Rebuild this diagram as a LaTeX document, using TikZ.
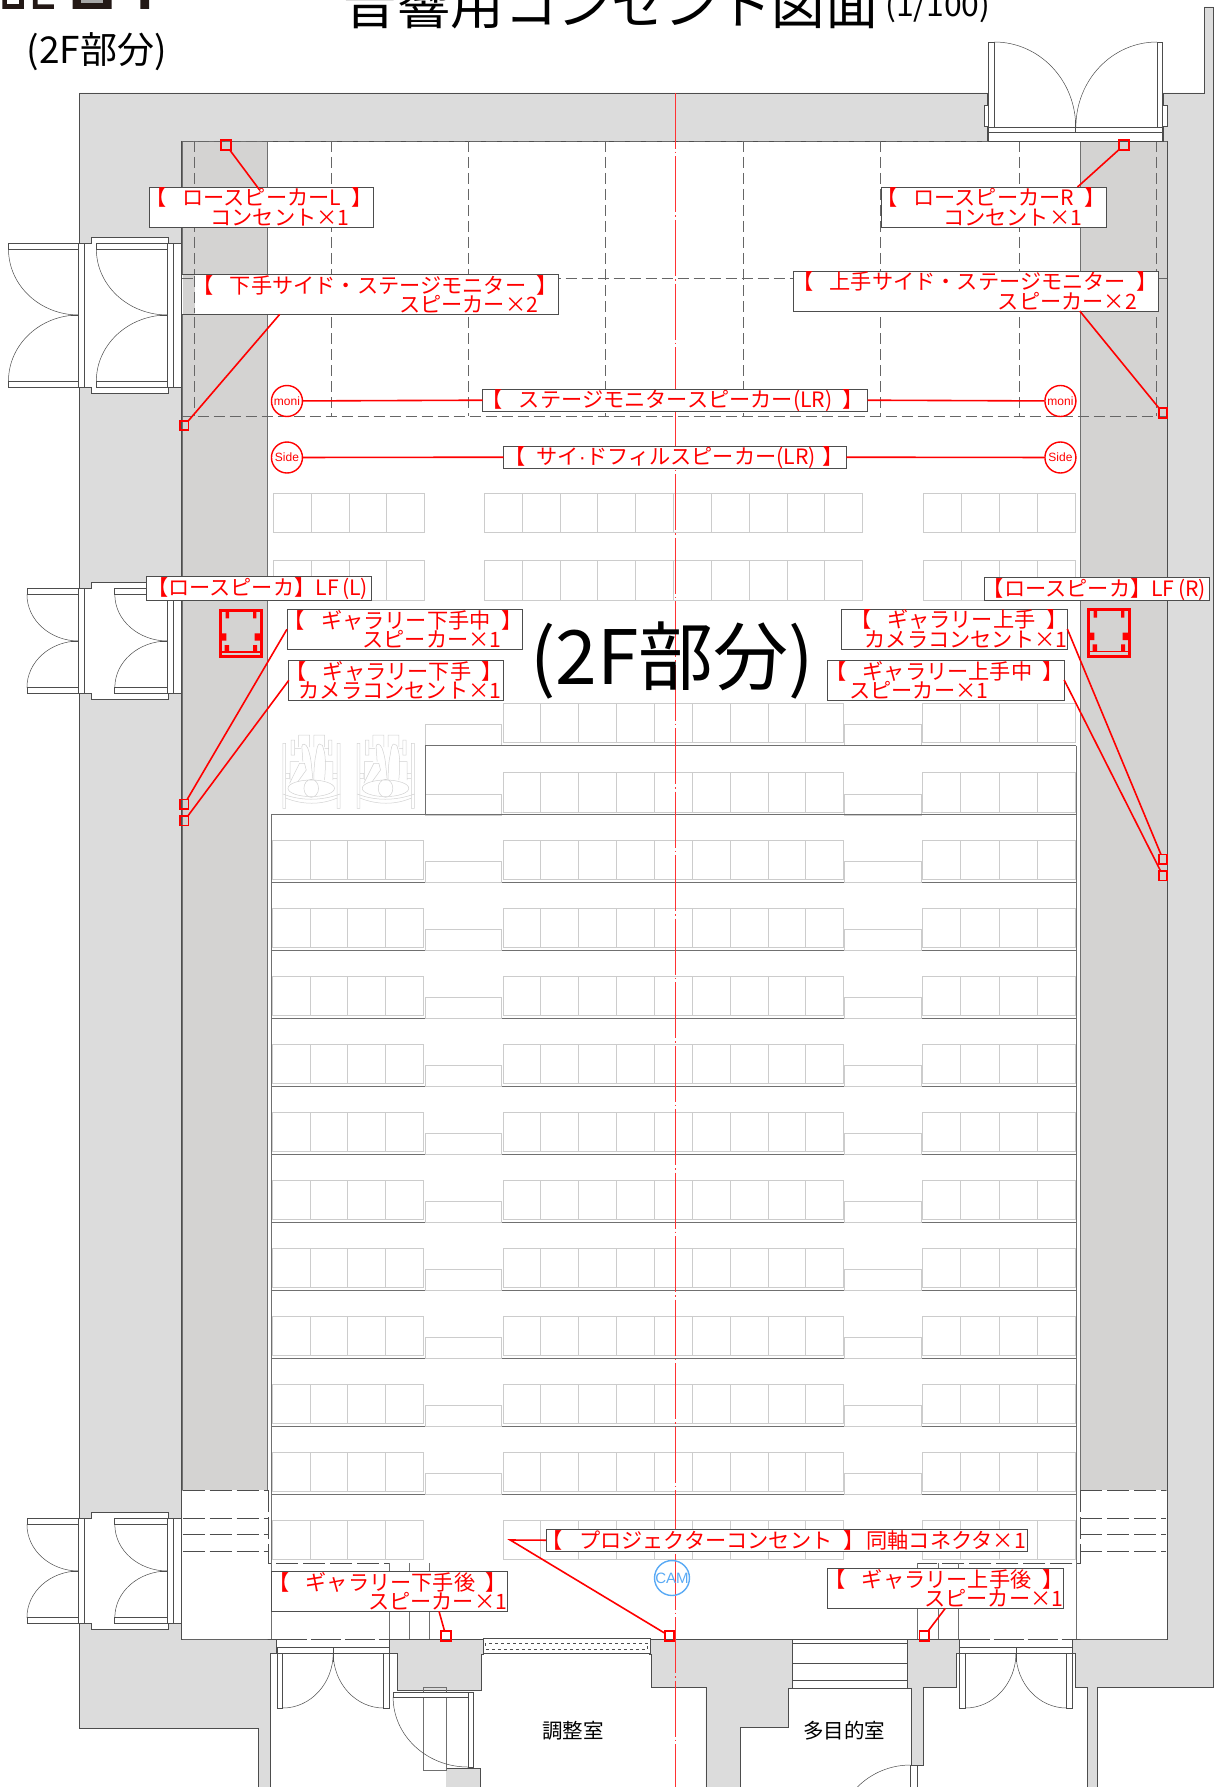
\documentclass[tikz,border=0pt]{standalone}
\usepackage{fontspec}
\setmainfont{Noto Sans CJK JP}
\newfontfamily\latinfont{Liberation Sans}
\definecolor{wallgray}{HTML}{DCDCDC}
\definecolor{winggray}{HTML}{D4D3D2}
\definecolor{planline}{HTML}{4D4D4D}
\definecolor{gridline}{HTML}{666666}
\definecolor{seatline}{HTML}{CCCCCC}
\definecolor{chairline}{HTML}{D2D2D2}
\definecolor{rowline}{HTML}{707070}
\definecolor{logoblack}{HTML}{231815}
\definecolor{camblue}{HTML}{5AAAF5}
\newcommand\gp{\hspace{.5em}}
\newcommand\rt[1]{\hspace*{#1pt}}
\newcommand\openbr{\leavevmode\kern-20pt 【\hspace{.25em}}
\tikzset{
  wall/.style={draw=planline,line width=0.8},
  thin door/.style={draw=planline,line width=0.5},
  dash grid/.style={draw=gridline,line width=0.7,dash pattern=on 11pt off 5pt},
  white dash/.style={draw=planline,line width=0.7,dash pattern=on 22pt off 5pt},
  seat/.style={draw=seatline,line width=0.8},
  labelbox/.style={draw=planline,line width=0.8,fill=white,text=red,align=right,inner sep=0,outer sep=0,
    minimum height=40,font=\fontsize{21.2}{19.4}\selectfont},
  oneline/.style={labelbox,minimum height=#1},
  outlet/.style={draw=red,line width=1.8,minimum size=9.5,inner sep=0,outer sep=0},
  link/.style={draw=red,line width=1.6},
  spk/.style={circle,draw=red,line width=1.4,fill=white,minimum size=31,inner sep=0,text=red,
    font=\latinfont\fontsize{12}{12}\selectfont},
  speakerbox/.pic={
    \draw[red,line width=3] (0,0) rectangle (41,46.7);
    \draw[red,line width=1.5] (0,42) -- (41,42);
    \fill[red] (5.3,1) rectangle (8.7,8.3) (32.7,1) rectangle (36,8.3)
      (0,23.3) rectangle (6,30.7) (34.3,23.3) rectangle (41,30.7)
      (4.3,35) rectangle (8.7,41.7) (32.7,35) rectangle (36.7,41.7);
  },
  wheelchair/.pic={
    \draw[chairline,line width=0.5]
      (0,8.3) rectangle (2.7,73.3) (54.4,8.3) rectangle (57.4,73.3)
      (15.7,0) -- (15.7,12) (15.7,0) -- (26.7,0) -- (26.7,12) (31,12) -- (31,0) -- (41.7,0) -- (41.7,12)
      (8.3,5) rectangle (11.7,20) (45.7,5) rectangle (49,20)
      (11.7,13.5) -- (18,13.5) (41.7,13.5) -- (45.7,13.5)
      (7.3,45) -- (7.3,26.7) -- (16,26.7) (42,26.7) -- (50,26.7) -- (50,45)
      (2.7,38.3) rectangle (6.7,43.3) (50,38.3) rectangle (54.4,43.3)
      (28.4,53.3) ellipse [x radius=23.3,y radius=8.3]
      (28.4,53.3) ellipse [x radius=7.3,y radius=9];
    \draw[chairline,line width=0.5] (0,59) .. controls (18,66) and (38,66) .. (57.4,59);
    \draw[chairline,line width=0.5] (2.7,63) .. controls (20,70) and (38,70) .. (54.4,63);
    \draw[chairline,line width=0.5] (31,45) .. controls (31,32) and (32,24) .. (33.4,18.3)
      .. controls (34,13) and (35,9) .. (36.7,9) .. controls (39,9) and (41,11) .. (40.7,14)
      .. controls (43,20) and (43,32) .. (41.7,45);
    \draw[chairline,line width=0.5] (19,11.7) .. controls (19,8) and (23,8) .. (25,13.3)
      .. controls (27,19) and (28,24) .. (28.4,28.3) -- (30,44);
    \draw[chairline,line width=0.5] (19,11.7) -- (20,26.7);
    \draw[chairline,line width=0.5] (6.7,48.3) -- (16.7,28.3) -- (21.7,28.3) -- (23.4,35) -- (15,46.7);
  }
}
% pair of leaves on the left side, with the frame round them
\newcommand\leafpair[4]{
  \fill[white] (80,#3-#4) rectangle (182,#3+#4);
  \fill[white] (92,#3-#4-6) rectangle (168.5,#3+#4+6);
  \draw[wall] (84,#3-#4) -- (92,#3-#4) -- (92,#3-#4-6) -- (168.5,#3-#4-6) -- (168.5,#3-#4);
  \draw[wall] (84,#3+#4) -- (92,#3+#4) -- (92,#3+#4+6) -- (168.5,#3+#4+6) -- (168.5,#3+#4);
  \foreach \xa/\xb in {#1/79,#2/168} {
    \draw[wall,fill=white] (\xa,#3-#4) rectangle (\xb,#3-#4+6);
    \draw[wall,fill=white] (\xa,#3+#4) rectangle (\xb,#3+#4-6);
    \draw[thin door] (\xa,#3-#4+6) arc [start angle=180,end angle=90,x radius={\xb-\xa},y radius={#4-6}];
    \draw[thin door] (\xa,#3+#4-6) arc [start angle=180,end angle=270,x radius={\xb-\xa},y radius={#4-6}];
    \draw[wall] (\xb-8,#3) -- (\xb+5,#3);
    \draw[wall,fill=white] (\xb,#3-#4) rectangle (\xb+5.5,#3+#4);
  }
  \draw[wall] (173.5,#3-#4) rectangle (182,#3+#4);
}
\begin{document}
\begin{tikzpicture}[x=0.9985pt,y=-1pt]
\useasboundingbox (0,0) rectangle (1217.83,1787);
\fill[white] (0,0) rectangle (1217.83,1787);
% walls
\draw[wall,fill=wallgray] (80,93) -- (989,93) -- (989,141) -- (1165,141) -- (1165,93) -- (1206,93)
  -- (1206,7) -- (1215.5,7) -- (1215.5,1687) -- (1099,1687) -- (1099,1787) -- (1089,1787) -- (1089,1687)
  -- (1077,1687) -- (1077,1653) -- (1074,1653) -- (1074,1639) -- (961,1639) -- (961,1653) -- (958,1653)
  -- (958,1687) -- (925,1687) -- (925,1765) -- (912.5,1765) -- (912.5,1688) -- (908.6,1688) -- (908.6,1639)
  -- (794,1639) -- (794,1688) -- (789.5,1688) -- (789.5,1727) -- (741,1727) -- (741,1787) -- (707,1787)
  -- (707,1687) -- (652.6,1687) -- (652.6,1654) -- (650.7,1654) -- (650.7,1639) -- (484,1639) -- (484,1654)
  -- (482.4,1654) -- (482.4,1690) -- (397.6,1690) -- (397.6,1653) -- (390,1653) -- (390,1639) -- (277,1639)
  -- (277,1653) -- (270.4,1653) -- (270.4,1787) -- (258.7,1787) -- (258.7,1728) -- (80,1728) -- cycle;
\draw[wall,fill=wallgray] (446.6,1768) -- (481.6,1768) -- (481.6,1787) -- (446.6,1787);
\draw[wall,fill=white] (182,141) rectangle (1169,1639);
\draw[draw=rowline,fill=winggray] (182,141) rectangle (268,1490);
\draw[draw=rowline,fill=winggray] (1081.5,141) rectangle (1169,1490);
\draw[wall] (182,141) -- (182,1490) (1169,141) -- (1169,1490);
% stage grid
\foreach \gx in {194.5,332,469,606.5,744.5,882,1020.6,1158}
  \draw[dash grid] (\gx,141) -- (\gx,416);
\foreach \gy in {141,278,416}
  \draw[dash grid] (182,\gy) -- (1169,\gy);
% seats
\foreach \sy in {493,560.7} {
  \foreach \i in {0,...,3} \draw[seat] (274+37.75*\i,\sy) rectangle ++(37.75,39.3);
  \foreach \i in {0,...,9} \draw[seat] (485+37.9*\i,\sy) rectangle ++(37.9,39.3);
  \foreach \i in {0,...,3} \draw[seat] (925+38*\i,\sy) rectangle ++(38,39.3);
}
\foreach \sy in {703,772.7} {
  \foreach \i in {0,...,8} \draw[seat] (503.8+37.9*\i,\sy) rectangle ++(37.9,39.3);
  \foreach \i in {0,...,3} \draw[seat] (924+38.2*\i,\sy) rectangle ++(38.2,39.3);
  \draw[seat] (426,\sy+21.7) rectangle ++(76,21);
  \draw[seat] (846,\sy+21.7) rectangle ++(76.5,21);
}
\draw[rowline,line width=1] (426,745.7) -- (1078,745.7) (426,745.7) -- (426,814);
\pic at (283.3,735) {wheelchair};
\pic at (357.7,735) {wheelchair};
\foreach \k in {0,...,10} {
  \draw[rowline,line width=1] (271.5,814.3+68*\k) -- (1078,814.3+68*\k);
  \foreach \i in {0,...,3} \draw[seat] (272.4+38*\i,840+68*\k) rectangle ++(38,39.3);
  \foreach \i in {0,...,8} \draw[seat] (503.8+37.9*\i,840+68*\k) rectangle ++(37.9,39.3);
  \foreach \i in {0,...,3} \draw[seat] (924+38.2*\i,840+68*\k) rectangle ++(38.2,39.3);
}
\foreach \k in {0,...,9} {
  \draw[seat] (426,861.7+68*\k) rectangle ++(76,20.3);
  \draw[seat] (846,861.7+68*\k) rectangle ++(76.5,20.3);
}
\draw[rowline,line width=1] (271.5,814) -- (271.5,1639) (1078,745.7) -- (1078,1639);
% rear of the hall
\fill[white] (183,1490) rectangle (268,1639) (1082,1490) rectangle (1168,1639);
\foreach \gy in {1490,1518,1534.3,1551} {
  \draw[white dash] (183,\gy) -- (268,\gy);
  \draw[white dash] (1082,\gy) -- (1168,\gy);
}
\draw[white dash] (182,1490) -- (182,1624) (268.4,1490) -- (268.4,1563) -- (390,1563);
\draw[white dash] (1168.8,1490) -- (1168.8,1639) (1082,1490) -- (1082,1563) -- (918.6,1563);
\foreach \gx in {390,409.6,430,918.6,939.6,959.7}
  \draw[draw=rowline,line width=0.7] (\gx,1563) -- (\gx,1639);
% centre line
\draw[red!80!white,line width=0.7,dash pattern=on 56pt off 3pt on 1.5pt off 3pt] (676,93) -- (676,1787);
% doors
\leafpair{8.5}{96.5}{315}{72}
\leafpair{27}{115}{641}{52.5}
\leafpair{27}{115}{1571}{52.5}
\foreach \jx in {990,1158.7} \draw[wall,fill=white] (\jx,42) rectangle ++(5.8,85);
\draw[thin door] (995.8,42) arc [start angle=270,end angle=360,x radius=81.5,y radius=85];
\draw[thin door] (1158.7,42) arc [start angle=270,end angle=180,x radius=81.2,y radius=85];
\draw[wall,fill=white] (990,127) rectangle (1164.5,132.7);
\draw[wall,fill=white] (990,132.7) rectangle (1164.5,141);
\draw[wall,dashed] (990,141) -- (1164.5,141);
\draw[wall] (1077.3,120) -- (1077.3,132.7);
\draw[wall,fill=white] (986,105.7) rectangle (990,126.7) (1164.5,105.7) rectangle (1169,126.7);
\foreach \dxa/\dxb in {277.4/390,961/1074} {
  \fill[white] (\dxa,1637.5) rectangle (\dxb,1640.5);
  \draw[draw=planline,line width=0.7,dash pattern=on 30pt off 4pt] (\dxa,1639) -- (\dxb,1639);
  \draw[wall,fill=white] (\dxa,1647) rectangle (\dxb,1653);
  \draw[wall,fill=white] (\dxa,1653) rectangle ++(5.8,55);
  \draw[wall,fill=white] (\dxb-5.8,1653) rectangle (\dxb,1708);
  \draw[thin door] (\dxa+5.8,1708) arc [start angle=90,end angle=0,x radius={(\dxb-\dxa)/2-5.8},y radius=55];
  \draw[thin door] (\dxb-5.8,1708) arc [start angle=90,end angle=180,x radius={(\dxb-\dxa)/2-5.8},y radius=55];
  \draw[wall] ({(\dxa+\dxb)/2},1647) -- ({(\dxa+\dxb)/2},1662);
}
\draw[rowline,line width=0.8] (424,1687) rectangle (446.6,1770);
\draw[wall,fill=white] (393.7,1692) rectangle (468.8,1697);
\draw[wall,fill=white] (468.8,1692) rectangle (474.6,1767);
\draw[thin door] (393.7,1697) arc [start angle=180,end angle=90,x radius=75.1,y radius=70];
\draw[wall] (911.7,1765) rectangle (919,1787);
\draw[thin door] (911.7,1765) arc [start angle=270,end angle=225,radius=75];
% projector window and stairs
\draw[wall,fill=white,line width=1] (484,1638) rectangle (651,1653.7);
\draw[wall,fill=white,dashed] (486.5,1643) rectangle (648.7,1649);
\draw[wall,fill=white] (794,1639) rectangle (908.6,1688);
\foreach \ty in {1643.3,1680.7} \draw[planline,line width=1] (794,\ty) -- (908.6,\ty);
\draw[planline,line width=0.7] (794,1663.3) -- (908.6,1663.3);
% logo
\fill[logoblack] (2.3,0) rectangle (24,9) (33,0) rectangle (37.7,9) (33,4.5) rectangle (54,9)
  (72.7,0) rectangle (111.7,9) (140.7,0) rectangle (149.3,9);
\fill[white] (7,0) rectangle (19,4.5);
\fill[gray!70] (81,0) rectangle (103,3);
% titles
\node (pageTitle) at (612,4) {\fontsize{53.5}{53.5}\selectfont 音響用コンセント図面};
\node[right=0pt] (pageScale) at (883,6.5) {\fontsize{32}{32}\selectfont (1/100)};
\node (partNote) at (97,51.5) {\fontsize{37}{37}\selectfont (2F部分)};
\node (partMark) at (673,660.5) {\fontsize{75}{75}\selectfont (2F部分)};
\node (roomCtrl) at (574,1731) {\fontsize{20.5}{20.5}\selectfont 調整室};
\node (roomMulti) at (845.5,1731) {\fontsize{20.5}{20.5}\selectfont 多目的室};
% speakers
\pic at (220.7,610) {speakerbox};
\pic at (1090,609.3) {speakerbox};
% labels
\node[labelbox,text width=223.7] (rearL) at (261.6,207) {\openbr\gp ロースピーカーL\gp】\rt{1.3}\\コンセント×1\rt{23.5}};
\node[labelbox,text width=224.9] (rearR) at (995,207) {\openbr\gp ロースピーカーR\gp】\rt{1.3}\\コンセント×1\rt{24}};
\node[labelbox,text width=376.6] (sideL) at (370.3,294.3) {\openbr\gp 下手サイド・ステージモニター\gp】\rt{0}\\スピーカー×2\rt{20}};
\fill[winggray] (182.8,275) rectangle (195.7,313.9);
\draw[dash grid] (182,278) -- (195.7,278) (194.5,276) -- (194.5,313);
\node[labelbox,text width=364.4] (sideR) at (977.2,291) {\openbr\gp 上手サイド・ステージモニター\gp】\rt{3.2}\\スピーカー×2\rt{21}};
\node[oneline=21.7,text width=385] (moniLbl) at (676.1,400.2) {\openbr\gp ステージモニタースピーカー(LR)\gp】\rt{3.4}};
\node[oneline=22.3,text width=342.7] (sideLbl) at (676,457.2) {\openbr\hspace{.25em}サイ{\latinfont ·}ドフィルスピーカー(LR)\hspace{.3em}】\rt{3.1}};
\node[oneline=23.6,text width=224.5] (lfL) at (259.3,588.5) {\leavevmode\kern-20pt 【ロースピーカ】LF\,(L)\rt{3}};
\node[oneline=23,text width=224.9] (lfR) at (1098.2,589.2) {\leavevmode\kern-20pt 【ロースピーカ】LF\,(R)\rt{3}};
\node[labelbox,text width=235.5] (galLmid) at (405.3,629.3) {\openbr\gp ギャラリー下手中\gp】\rt{2.4}\\スピーカー×1\rt{21}};
\node[labelbox,text width=214.4] (galLcam) at (396.6,680.3) {\openbr\gp ギャラリー下手\gp】\rt{2.6}\\カメラコンセント×1\rt{2}};
\node[labelbox,text width=225.7] (galRcam) at (955.9,629) {\openbr\gp ギャラリー上手\gp】\rt{12.5}\\カメラコンセント×1\rt{0}};
\node[labelbox,text width=236.6] (galRmid) at (947.3,680) {\openbr\gp ギャラリー上手中\gp】\rt{3.4}\\スピーカー×1\rt{76}};
\node[oneline=21.7,text width=481.6] (projLbl) at (788.2,1540.2) {\openbr\gp プロジェクターコンセント\gp】\hspace{.1em}同軸コネクタ×1\rt{2}};
\node[labelbox,text width=235.4] (galLrear) at (390,1591.3) {\openbr\gp ギャラリー下手後\gp】\rt{1.5}\\スピーカー×1\rt{0}};
\node[labelbox,text width=236.1] (galRrear) at (946.7,1588.3) {\openbr\gp ギャラリー上手後\gp】\rt{0.6}\\スピーカー×1\rt{0}};
% outlets
\node[outlet] (outRearL) at (226.4,145) {};
\node[outlet] (outRearR) at (1125.8,145) {};
\node[outlet,minimum height=9.5,minimum width=8.5] (outSideL) at (184.6,425.5) {};
\node[outlet,minimum height=9.5,minimum width=8.5] (outSideR) at (1164.7,413) {};
\node[outlet,minimum height=9.5,minimum width=8.5] (outGalLmid) at (184.6,804.3) {};
\node[outlet,minimum height=9.5,minimum width=8.5] (outGalLcam) at (184.6,820.7) {};
\node[outlet,minimum height=9.5,minimum width=8.5] (outGalRcam) at (1164.7,859.3) {};
\node[outlet,minimum height=9.5,minimum width=8.5] (outGalRmid) at (1164.7,875.7) {};
\node[outlet] (outLrear) at (446.6,1636) {};
\node[outlet] (outProj) at (670.5,1636) {};
\node[outlet] (outRrear) at (925.7,1636) {};
% circles
\node[spk] (moniL) at (287.4,401) {moni};
\node[spk] (moniR) at (1062,401) {moni};
\node[spk] (fillL) at (287.4,457.5) {Side};
\node[spk] (fillR) at (1062,457.5) {Side};
\node[circle,draw=camblue,line width=1.4,minimum size=33,inner sep=0,text=camblue,
  font=\latinfont\fontsize{15}{15}\selectfont] (camMark) at (673,1578) {CAM};
% connectors
\coordinate (projBend) at (511,1540);
\draw[link] (outRearL) -- ([xshift=-1.6,yshift=-3]rearL.north);
\draw[link] (outRearR) -- ([xshift=84]rearR.north);
\draw[link] (outSideL) -- ([xshift=-90]sideL.south);
\draw[link] (outSideR) -- ([xshift=104]sideR.south);
\draw[link] (moniL) -- (moniLbl.west);
\draw[link] (moniLbl.east) -- (moniR);
\draw[link] (fillL) -- (sideLbl.west);
\draw[link] (sideLbl.east) -- (fillR);
\draw[link] (outGalLmid) -- (galLmid.west);
\draw[link] (outGalLcam) -- (galLcam.west);
\draw[link] (outGalRcam) -- (galRcam.east);
\draw[link] (outGalRmid) -- (galRmid.east);
\draw[link] (projLbl.west) -- (projBend) -- (outProj);
\draw[link] (outLrear) -- ([xshift=49.6]galLrear.south);
\draw[link] (outRrear) -- (galRrear.south);
\end{tikzpicture}
\end{document}
